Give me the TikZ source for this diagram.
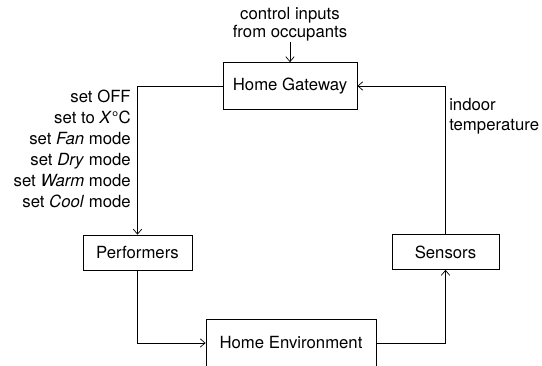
\documentclass[tikz,border=0pt]{standalone}
\usepackage{fontspec}
\setmainfont{TeX Gyre Heros}
\usetikzlibrary{positioning,arrows.meta}

\begin{document}
\begin{tikzpicture}[
    x=0.025cm, y=-0.025cm,
    box/.style={draw, line width=0.5pt, minimum width=#1, minimum height=0.875cm, inner sep=0pt},
    flow/.style={line width=0.5pt, -{Straight Barb[length=3.5pt, width=6pt]}},
    every node/.style={font=\fontsize{11.9}{14.9}\selectfont}
]
    \useasboundingbox (0,0) rectangle (542,366);

    % Blocks
    \node[box=3.35cm, minimum height=1.175cm] (gw) at (290, 86) {Home Gateway};
    \node[box=2.725cm] (perf) at (137.5, 252.5) {Performers};
    \node[box=2.675cm] (sens) at (445.5, 252) {Sensors};
    \node[box=4.25cm, minimum height=1.2cm] (env) at (291, 343) {Home Environment};

    % Inputs
    \node[align=center, inner sep=0pt, font=\fontsize{11.9}{12.8}\selectfont] (ctrl) at (290, 24)
        {control inputs\\from occupants};

    % Arrows
    \draw[flow] (ctrl.south) ++(0,1) -- (gw.north);
    \draw[flow] (gw.west) -| (perf.north);
    \draw[flow] (perf.south) |- (env.west);
    \draw[flow] (env.east) -| (sens.south);
    \draw[flow] (sens.north) |- (gw.east);

    % Labels
    \node[anchor=north east, align=right, inner sep=0pt] (cmds) at (131, 90) {
        set OFF\\
        set to \textit{X}°C\\
        set \textit{Fan} mode\\
        set \textit{Dry} mode\\
        set \textit{Warm} mode\\
        set \textit{Cool} mode
    };
    \node[anchor=north west, align=left, inner sep=0pt, font=\fontsize{11.9}{14.2}\selectfont] (temp) at (449, 98) {
        indoor\\
        temperature
    };
\end{tikzpicture}
\end{document}
